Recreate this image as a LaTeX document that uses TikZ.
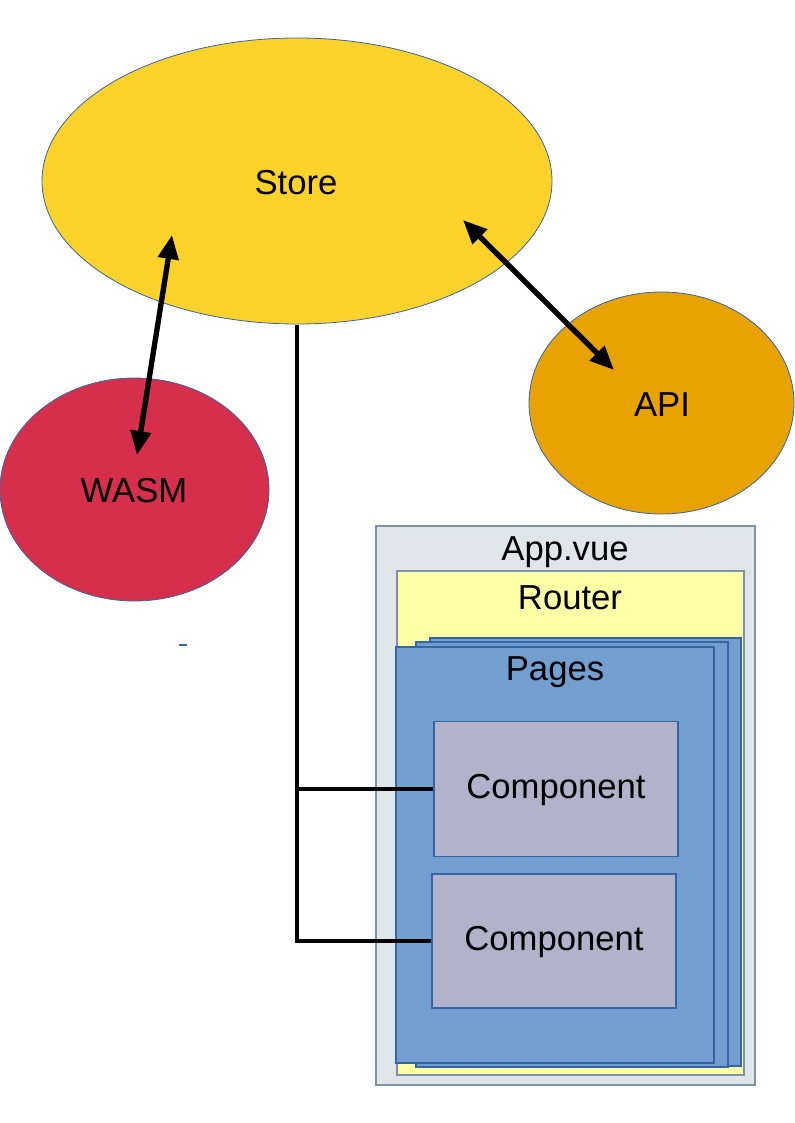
\documentclass[tikz,border=0pt]{standalone}
\usepackage{fontspec}
\setmainfont{Liberation Sans}
\usetikzlibrary{arrows.meta}
\definecolor{storeY}{HTML}{FDD32B}
\definecolor{wasmR}{HTML}{D62F4C}
\definecolor{apiO}{HTML}{E8A202}
\definecolor{appG}{HTML}{DEE6EA}
\definecolor{routerY}{HTML}{FFFFA6}
\definecolor{pageB}{HTML}{729FCF}
\definecolor{edgeB}{HTML}{3465A4}
\definecolor{compP}{HTML}{B4B2CA}
\definecolor{frameG}{HTML}{7F93A8}
\tikzset{
  lbl/.style={font=\fontsize{26pt}{30pt}\selectfont, text=black, inner sep=0pt, yshift=-1pt},
  blob/.style={draw=edgeB, line width=0.6pt},
  boxA/.style={draw=frameG, line width=0.8pt},
  pagebox/.style={fill=pageB, draw=edgeB, line width=0.8pt},
  compbox/.style={fill=compP, draw=edgeB, line width=0.8pt},
  link/.style={line width=2.4pt, black},
  dbl/.style={line width=4pt, black, {Triangle[length=18pt,width=15pt]}-{Triangle[length=18pt,width=15pt]}}
}
\begin{document}
\begin{tikzpicture}[x=0.75pt,y=-0.75pt]
\useasboundingbox (0,0) rectangle (794,1123);
% ellipses
\draw[blob, fill=storeY] (297,181) ellipse [x radius=255, y radius=143];
\draw[blob, fill=wasmR] (134.5,489.5) ellipse [x radius=134.5, y radius=111.5];
\draw[blob, fill=apiO] (661.5,403) ellipse [x radius=132.5, y radius=111];
\node[lbl] (store) at (296,181) {Store};
\node[lbl] (wasm) at (134,489) {WASM};
\node[lbl] (api) at (662,403) {API};
% boxes
\draw[boxA, fill=appG] (376,526) rectangle (755,1085);
\draw[boxA, fill=routerY] (397,571) rectangle (744,1075);
\draw[pagebox] (430,638) rectangle (741,1066);
\draw[pagebox] (416,642) rectangle (728,1067);
\draw[pagebox] (396,647) rectangle (714,1063);
\node[lbl] (app) at (565,551) {App.vue};
\node[lbl] (router) at (570,596) {Router};
\node[lbl] (pages) at (555,671) {Pages};
\node[compbox, minimum width=244*0.75pt, minimum height=135*0.75pt, inner sep=0pt] (c1) at (556,789) {};
\node[compbox, minimum width=244*0.75pt, minimum height=134*0.75pt, inner sep=0pt] (c2) at (554,941) {};
\node[lbl] at (c1.center) {Component};
\node[lbl] at (c2.center) {Component};
% connectors
\coordinate (trunk) at (297,325);
\coordinate (j1) at (297,789);
\coordinate (j2) at (297,941);
\draw[link] (trunk) -- (j2) -- (c2.west);
\draw[link] (j1) -- (c1.west);
\coordinate (wa) at (172,235);
\coordinate (wb) at (137,455);
\coordinate (aa) at (463,220);
\coordinate (ab) at (614,370);
\draw[dbl] (wa) -- (wb);
\draw[dbl] (aa) -- (ab);
% small stray mark
\draw[edgeB, line width=2pt] (179,645) -- (187,645);
\end{tikzpicture}
\end{document}
